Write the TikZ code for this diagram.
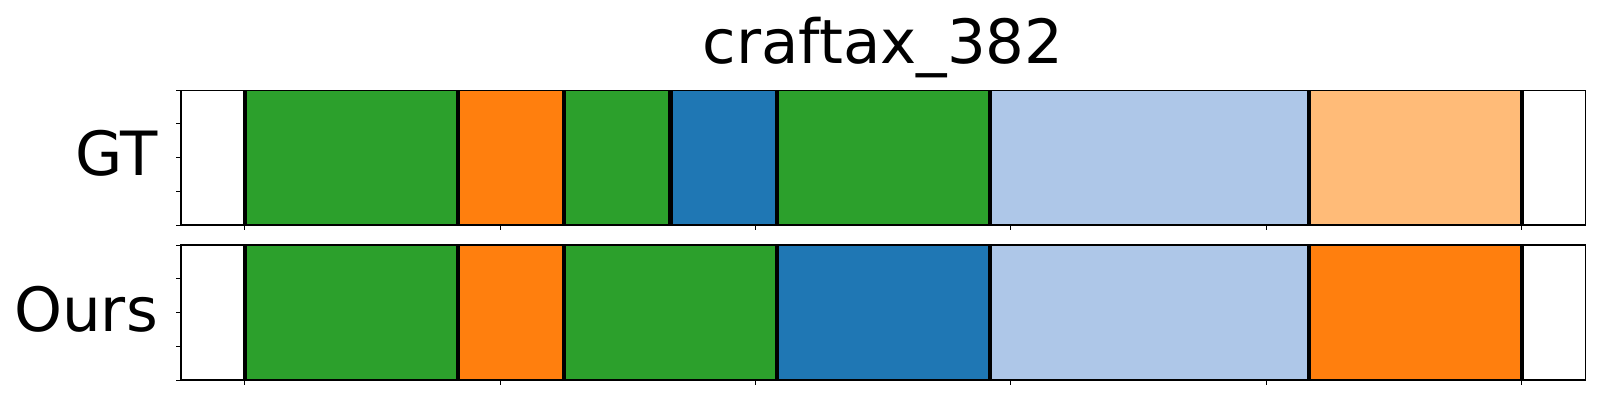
\documentclass[tikz,border=0pt]{standalone}
\usepackage{fontspec}
\setmainfont{DejaVu Sans}
\definecolor{tgreen}{HTML}{2CA02C}
\definecolor{torange}{HTML}{FF7F0E}
\definecolor{tblue}{HTML}{1F77B4}
\definecolor{tlblue}{HTML}{AEC7E8}
\definecolor{tlorange}{HTML}{FFBB78}
\tikzset{
  frame/.style={draw=black, line width=1.1pt},
  tickline/.style={draw=black, line width=1pt},
  segline/.style={draw=black, line width=4.2pt},
  lbl/.style={inner sep=0pt, font=\fontsize{61}{68}\selectfont},
}
\begin{document}
\begin{tikzpicture}[x=1pt,y=-1pt]
\useasboundingbox (0,0) rectangle (1600,400);
\fill[white] (0,0) rectangle (1600,400);
% segment x positions (twelfths)
\def\X#1{244.8+#1*106.41}
% ---------- top axis (GT) ----------
\def\T{90.3}\def\B{225}
\foreach \a/\b/\c in {0/2/tgreen,2/3/torange,3/4/tgreen,4/5/tblue,5/7/tgreen,7/10/tlblue,10/12/tlorange}
  \fill[\c] ({\X{\a}},\T) rectangle ({\X{\b}},\B);
\foreach \a in {0,2,3,4,5,7,10,12}
  \draw[segline] ({\X{\a}},\T) -- ({\X{\a}},\B);
\draw[frame] (181,\T) rectangle (1585.6,\B);
\foreach \yy in {0,1,2,3,4}
  \draw[tickline] (176.2,{\T+\yy*(\B-\T)/4}) -- (181,{\T+\yy*(\B-\T)/4});
\foreach \k in {0,...,5}
  \draw[tickline] ({244.8+\k*255.38},\B) -- ({244.8+\k*255.38},\B+4.8);
% ---------- bottom axis (Ours) ----------
\def\T{245}\def\B{380}
\foreach \a/\b/\c in {0/2/tgreen,2/3/torange,3/5/tgreen,5/7/tblue,7/10/tlblue,10/12/torange}
  \fill[\c] ({\X{\a}},\T) rectangle ({\X{\b}},\B);
\foreach \a in {0,2,3,5,7,10,12}
  \draw[segline] ({\X{\a}},\T) -- ({\X{\a}},\B);
\draw[frame] (181,\T) rectangle (1585.6,\B);
\foreach \yy in {0,1,2,3,4}
  \draw[tickline] (176.2,{\T+\yy*(\B-\T)/4}) -- (181,{\T+\yy*(\B-\T)/4});
\foreach \k in {0,...,5}
  \draw[tickline] ({244.8+\k*255.38},\B) -- ({244.8+\k*255.38},\B+4.8);
% ---------- labels ----------
\node[lbl, anchor=base] (title) at (883,63) {craftax\_382};
\node[lbl, anchor=base east] (gt) at (158,175) {GT};
\node[lbl, anchor=base east] (ours) at (158,331) {Ours};
\end{tikzpicture}
\end{document}
